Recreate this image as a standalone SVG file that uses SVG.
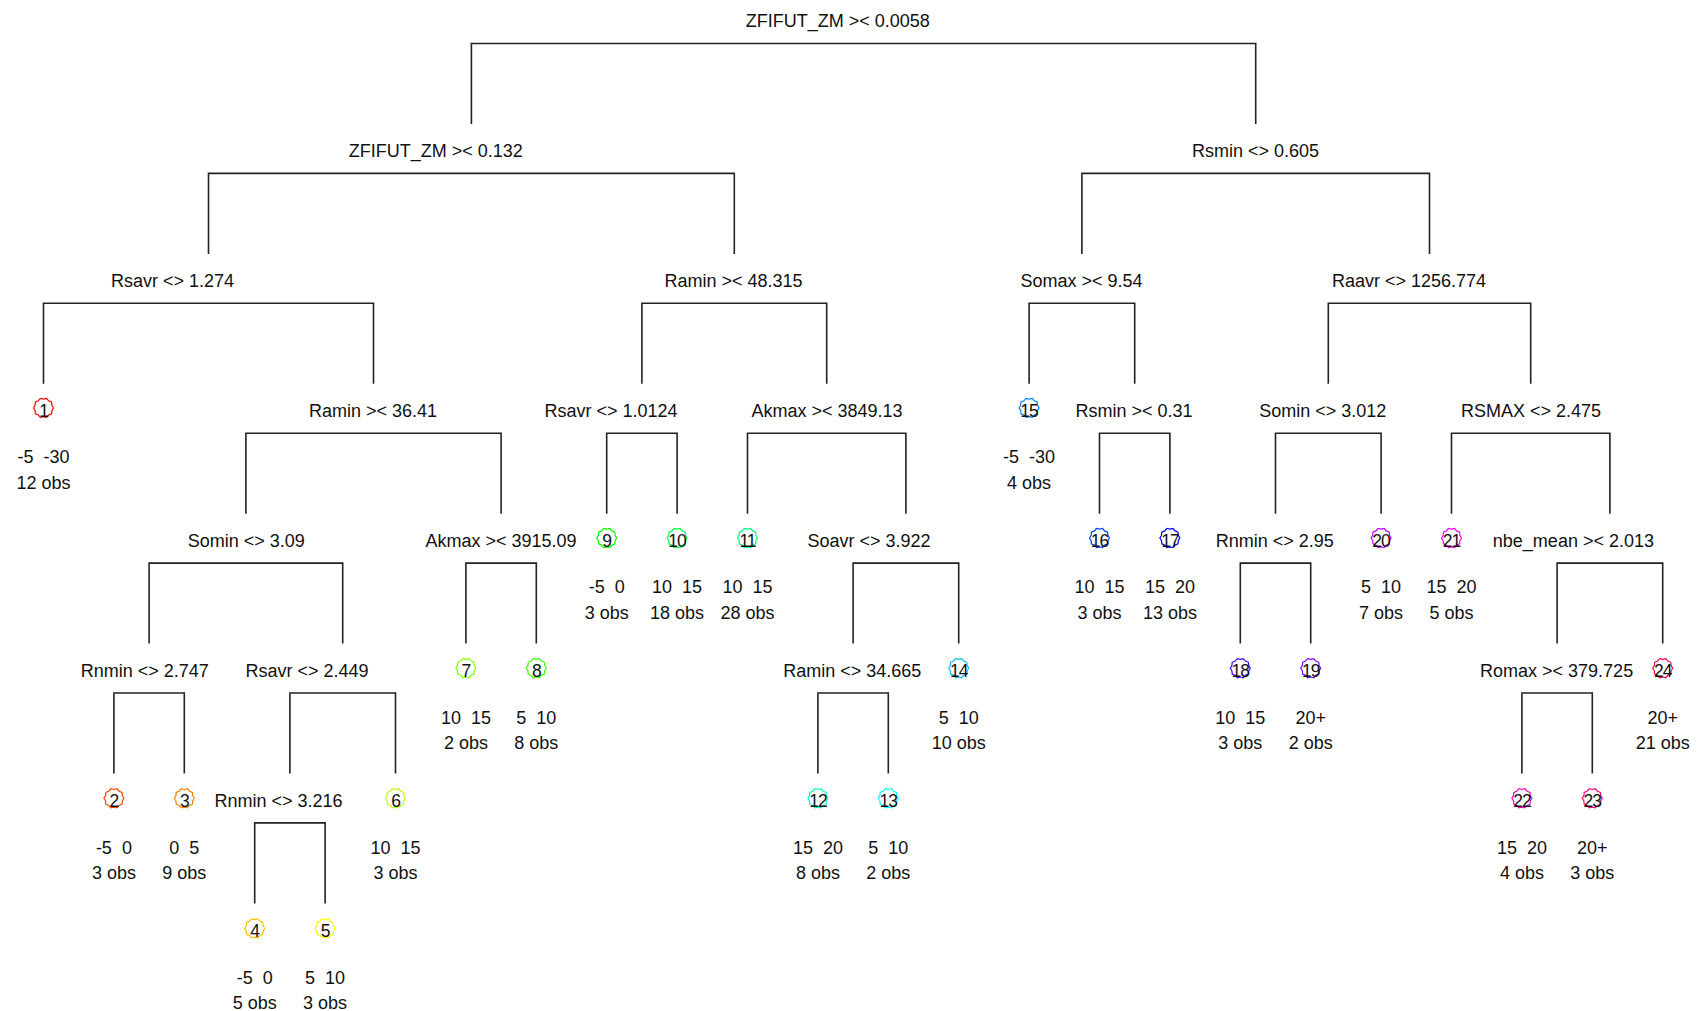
<svg xmlns="http://www.w3.org/2000/svg" width="1698" height="1011" viewBox="0 0 1698 1011" xml:space="preserve">
<style>
text{font-family:"Liberation Sans",Arial,sans-serif;font-size:18px;fill:#111;text-anchor:middle;white-space:pre}
.num{font-size:17.5px;letter-spacing:-1px}
.edge{fill:none;stroke:#222;stroke-width:1.6}
.mk{fill:none;stroke-width:1.2}
</style>
<defs>
<polygon id="star" points="10,0 8.37,2.72 8.09,5.88 5.17,7.12 3.09,9.51 0,8.8 -3.09,9.51 -5.17,7.12 -8.09,5.88 -8.37,2.72 -10,0 -8.37,-2.72 -8.09,-5.88 -5.17,-7.12 -3.09,-9.51 0,-8.8 3.09,-9.51 5.17,-7.12 8.09,-5.88 8.37,-2.72"/>
</defs>
<rect width="1698" height="1011" fill="#fff"/>
<g id="connectors">
<path class="edge" d="M471.4,124V43.5H1255.7V124"/>
<path class="edge" d="M208.5,253.9V173.4H734.3V253.9"/>
<path class="edge" d="M1081.9,253.9V173.4H1429.5V253.9"/>
<path class="edge" d="M43.5,383.8V303.3H373.5V383.8"/>
<path class="edge" d="M641.9,383.8V303.3H826.7V383.8"/>
<path class="edge" d="M1029.1,383.8V303.3H1134.7V383.8"/>
<path class="edge" d="M1328.3,383.8V303.3H1530.7V383.8"/>
<path class="edge" d="M245.9,513.7V433.2H501.1V513.7"/>
<path class="edge" d="M606.7,513.7V433.2H677.1V513.7"/>
<path class="edge" d="M747.5,513.7V433.2H905.9V513.7"/>
<path class="edge" d="M1099.5,513.7V433.2H1169.9V513.7"/>
<path class="edge" d="M1275.5,513.7V433.2H1381.1V513.7"/>
<path class="edge" d="M1451.5,513.7V433.2H1609.9V513.7"/>
<path class="edge" d="M149.1,643.6V563.1H342.7V643.6"/>
<path class="edge" d="M465.9,643.6V563.1H536.3V643.6"/>
<path class="edge" d="M853.1,643.6V563.1H958.7V643.6"/>
<path class="edge" d="M1240.3,643.6V563.1H1310.7V643.6"/>
<path class="edge" d="M1557.1,643.6V563.1H1662.7V643.6"/>
<path class="edge" d="M113.9,773.5V693H184.3V773.5"/>
<path class="edge" d="M289.9,773.5V693H395.5V773.5"/>
<path class="edge" d="M817.9,773.5V693H888.3V773.5"/>
<path class="edge" d="M1521.9,773.5V693H1592.3V773.5"/>
<path class="edge" d="M254.7,903.4V822.9H325.1V903.4"/>
</g>
<g id="split-nodes">
<g id="n-root"><text x="837.8" y="26.5">ZFIFUT_ZM &gt;&lt; 0.0058</text></g>
<g id="n-zfifut2"><text x="435.8" y="156.6">ZFIFUT_ZM &gt;&lt; 0.132</text></g>
<g id="n-rsmin1"><text x="1255.5" y="156.6">Rsmin &lt;&gt; 0.605</text></g>
<g id="n-rsavr1"><text x="172.5" y="286.8">Rsavr &lt;&gt; 1.274</text></g>
<g id="n-ramin1"><text x="733.5" y="286.8">Ramin &gt;&lt; 48.315</text></g>
<g id="n-somax"><text x="1081.6" y="286.8">Somax &gt;&lt; 9.54</text></g>
<g id="n-raavr"><text x="1409" y="286.8">Raavr &lt;&gt; 1256.774</text></g>
<g id="n-ramin2"><text x="373" y="416.9">Ramin &gt;&lt; 36.41</text></g>
<g id="n-rsavr2"><text x="611" y="416.9">Rsavr &lt;&gt; 1.0124</text></g>
<g id="n-akmax1"><text x="827" y="416.9">Akmax &gt;&lt; 3849.13</text></g>
<g id="n-rsmin2"><text x="1134" y="416.9">Rsmin &gt;&lt; 0.31</text></g>
<g id="n-somin1"><text x="1322.7" y="416.9">Somin &lt;&gt; 3.012</text></g>
<g id="n-rsmax"><text x="1531" y="416.9">RSMAX &lt;&gt; 2.475</text></g>
<g id="n-somin2"><text x="246.3" y="547">Somin &lt;&gt; 3.09</text></g>
<g id="n-akmax2"><text x="501" y="547">Akmax &gt;&lt; 3915.09</text></g>
<g id="n-soavr"><text x="869" y="547">Soavr &lt;&gt; 3.922</text></g>
<g id="n-rnmin1"><text x="1274.8" y="547">Rnmin &lt;&gt; 2.95</text></g>
<g id="n-nbe"><text x="1573.4" y="547">nbe_mean &gt;&lt; 2.013</text></g>
<g id="n-rnmin2"><text x="144.7" y="677.2">Rnmin &lt;&gt; 2.747</text></g>
<g id="n-rsavr3"><text x="307" y="677.2">Rsavr &lt;&gt; 2.449</text></g>
<g id="n-ramin3"><text x="852.2" y="677.2">Ramin &lt;&gt; 34.665</text></g>
<g id="n-romax"><text x="1556.6" y="677.2">Romax &gt;&lt; 379.725</text></g>
<g id="n-rnmin3"><text x="278.6" y="807.3">Rnmin &lt;&gt; 3.216</text></g>
</g>
<g id="leaves">
<g id="leaf1"><use href="#star" class="mk" x="43.5" y="407.9" stroke="#FF0000"/><text class="num" x="43.5" y="416.9">1</text><text x="43.5" y="463.2">-5  -30</text><text x="43.5" y="488.9">12 obs</text></g>
<g id="leaf2"><use href="#star" class="mk" x="113.9" y="798.3" stroke="#FF4000"/><text class="num" x="113.9" y="807.3">2</text><text x="113.9" y="853.6">-5  0</text><text x="113.9" y="879.3">3 obs</text></g>
<g id="leaf3"><use href="#star" class="mk" x="184.3" y="798.3" stroke="#FF8000"/><text class="num" x="184.3" y="807.3">3</text><text x="184.3" y="853.6">0  5</text><text x="184.3" y="879.3">9 obs</text></g>
<g id="leaf4"><use href="#star" class="mk" x="254.7" y="928.4" stroke="#FFBF00"/><text class="num" x="254.7" y="937.4">4</text><text x="254.7" y="983.7">-5  0</text><text x="254.7" y="1009.4">5 obs</text></g>
<g id="leaf5"><use href="#star" class="mk" x="325.1" y="928.4" stroke="#FFFF00"/><text class="num" x="325.1" y="937.4">5</text><text x="325.1" y="983.7">5  10</text><text x="325.1" y="1009.4">3 obs</text></g>
<g id="leaf6"><use href="#star" class="mk" x="395.5" y="798.3" stroke="#BFFF00"/><text class="num" x="395.5" y="807.3">6</text><text x="395.5" y="853.6">10  15</text><text x="395.5" y="879.3">3 obs</text></g>
<g id="leaf7"><use href="#star" class="mk" x="465.9" y="668.2" stroke="#80FF00"/><text class="num" x="465.9" y="677.2">7</text><text x="465.9" y="723.5">10  15</text><text x="465.9" y="749.2">2 obs</text></g>
<g id="leaf8"><use href="#star" class="mk" x="536.3" y="668.2" stroke="#40FF00"/><text class="num" x="536.3" y="677.2">8</text><text x="536.3" y="723.5">5  10</text><text x="536.3" y="749.2">8 obs</text></g>
<g id="leaf9"><use href="#star" class="mk" x="606.7" y="538" stroke="#00FF00"/><text class="num" x="606.7" y="547">9</text><text x="606.7" y="593.3">-5  0</text><text x="606.7" y="619">3 obs</text></g>
<g id="leaf10"><use href="#star" class="mk" x="677.1" y="538" stroke="#00FF40"/><text class="num" x="677.1" y="547">10</text><text x="677.1" y="593.3">10  15</text><text x="677.1" y="619">18 obs</text></g>
<g id="leaf11"><use href="#star" class="mk" x="747.5" y="538" stroke="#00FF80"/><text class="num" x="747.5" y="547">11</text><text x="747.5" y="593.3">10  15</text><text x="747.5" y="619">28 obs</text></g>
<g id="leaf12"><use href="#star" class="mk" x="817.9" y="798.3" stroke="#00FFBF"/><text class="num" x="817.9" y="807.3">12</text><text x="817.9" y="853.6">15  20</text><text x="817.9" y="879.3">8 obs</text></g>
<g id="leaf13"><use href="#star" class="mk" x="888.3" y="798.3" stroke="#00FFFF"/><text class="num" x="888.3" y="807.3">13</text><text x="888.3" y="853.6">5  10</text><text x="888.3" y="879.3">2 obs</text></g>
<g id="leaf14"><use href="#star" class="mk" x="958.7" y="668.2" stroke="#00BFFF"/><text class="num" x="958.7" y="677.2">14</text><text x="958.7" y="723.5">5  10</text><text x="958.7" y="749.2">10 obs</text></g>
<g id="leaf15"><use href="#star" class="mk" x="1029.1" y="407.9" stroke="#0080FF"/><text class="num" x="1029.1" y="416.9">15</text><text x="1029.1" y="463.2">-5  -30</text><text x="1029.1" y="488.9">4 obs</text></g>
<g id="leaf16"><use href="#star" class="mk" x="1099.5" y="538" stroke="#0040FF"/><text class="num" x="1099.5" y="547">16</text><text x="1099.5" y="593.3">10  15</text><text x="1099.5" y="619">3 obs</text></g>
<g id="leaf17"><use href="#star" class="mk" x="1169.9" y="538" stroke="#0000FF"/><text class="num" x="1169.9" y="547">17</text><text x="1169.9" y="593.3">15  20</text><text x="1169.9" y="619">13 obs</text></g>
<g id="leaf18"><use href="#star" class="mk" x="1240.3" y="668.2" stroke="#4000FF"/><text class="num" x="1240.3" y="677.2">18</text><text x="1240.3" y="723.5">10  15</text><text x="1240.3" y="749.2">3 obs</text></g>
<g id="leaf19"><use href="#star" class="mk" x="1310.7" y="668.2" stroke="#8000FF"/><text class="num" x="1310.7" y="677.2">19</text><text x="1310.7" y="723.5">20+</text><text x="1310.7" y="749.2">2 obs</text></g>
<g id="leaf20"><use href="#star" class="mk" x="1381.1" y="538" stroke="#BF00FF"/><text class="num" x="1381.1" y="547">20</text><text x="1381.1" y="593.3">5  10</text><text x="1381.1" y="619">7 obs</text></g>
<g id="leaf21"><use href="#star" class="mk" x="1451.5" y="538" stroke="#FF00FF"/><text class="num" x="1451.5" y="547">21</text><text x="1451.5" y="593.3">15  20</text><text x="1451.5" y="619">5 obs</text></g>
<g id="leaf22"><use href="#star" class="mk" x="1521.9" y="798.3" stroke="#FF00BF"/><text class="num" x="1521.9" y="807.3">22</text><text x="1521.9" y="853.6">15  20</text><text x="1521.9" y="879.3">4 obs</text></g>
<g id="leaf23"><use href="#star" class="mk" x="1592.3" y="798.3" stroke="#FF0080"/><text class="num" x="1592.3" y="807.3">23</text><text x="1592.3" y="853.6">20+</text><text x="1592.3" y="879.3">3 obs</text></g>
<g id="leaf24"><use href="#star" class="mk" x="1662.7" y="668.2" stroke="#FF0040"/><text class="num" x="1662.7" y="677.2">24</text><text x="1662.7" y="723.5">20+</text><text x="1662.7" y="749.2">21 obs</text></g>
</g>
</svg>
